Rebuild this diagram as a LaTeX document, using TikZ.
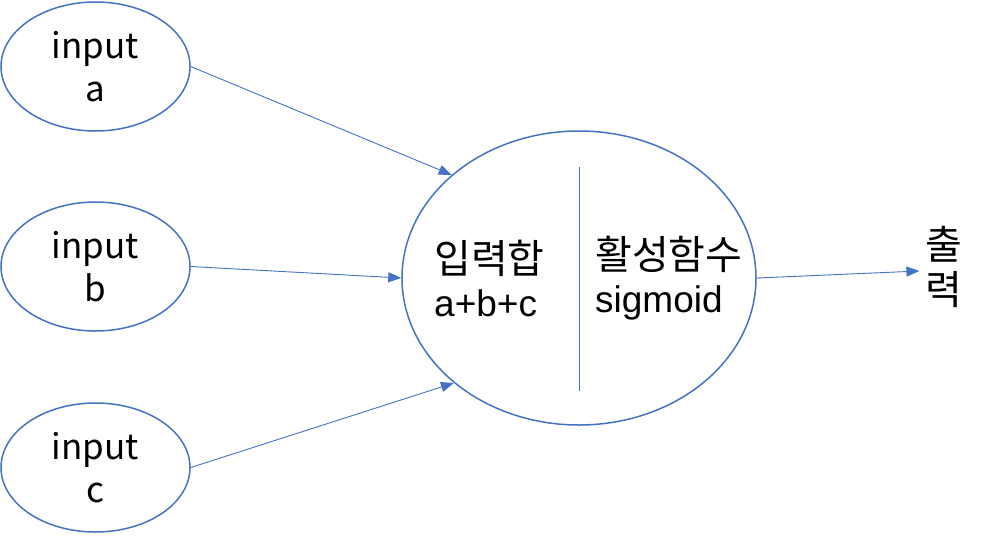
\documentclass[tikz,border=0pt]{standalone}
\usepackage{fontspec}
\setmainfont{Noto Sans CJK KR}
\newfontfamily\latinfont{Liberation Sans}
\usetikzlibrary{arrows.meta,shapes.geometric}
\definecolor{edgeblue}{HTML}{4472C4}
\tikzset{
  inputnode/.style={ellipse, draw=edgeblue, line width=1.5pt, minimum width=189pt, minimum height=129pt, inner sep=0pt, align=center, font=\fontsize{35}{43}\selectfont},
  celltext/.style={inner sep=0pt, align=left, font=\fontsize{40}{43}\selectfont},
  link/.style={draw=edgeblue, line width=0.9pt, -{Triangle[length=13pt,width=10pt]}}
}

\begin{document}
\begin{tikzpicture}[x=1pt, y=-1pt]
  \useasboundingbox (0,0) rectangle (987,536);
  \node[inputnode] (A) at (95.5,66.5) {input\\a};
  \node[inputnode] (B) at (95.5,266.5) {input\\b};
  \node[inputnode] (C) at (95.5,467.5) {input\\c};
  \node[ellipse, draw=edgeblue, line width=1.5pt, minimum width=354pt, minimum height=294pt] (N) at (579,278) {};
  \coordinate (Ntop) at (579,167);
  \coordinate (Nbot) at (579,391);
  \draw[edgeblue, line width=1pt] (Ntop) -- (Nbot);
  \node[celltext, anchor=west] (sum) at (434,278) {입력합\\{\latinfont\fontsize{37}{43}\selectfont a+b+c}};
  \node[celltext, anchor=west] (act) at (595,278) {활성함수\\{\latinfont\fontsize{37}{43}\selectfont sigmoid}};
  \node[inner sep=6pt, align=center, font=\fontsize{40}{45}\selectfont] (out) at (944,267) {출\\력};
  \draw[link] (A.east) -- (N.141);
  \draw[link] (B.east) -- (N.180);
  \draw[link] (C.east) -- (N.220);
  \draw[link] (N.east) -- ([yshift=-4pt]out.west);
\end{tikzpicture}
\end{document}
